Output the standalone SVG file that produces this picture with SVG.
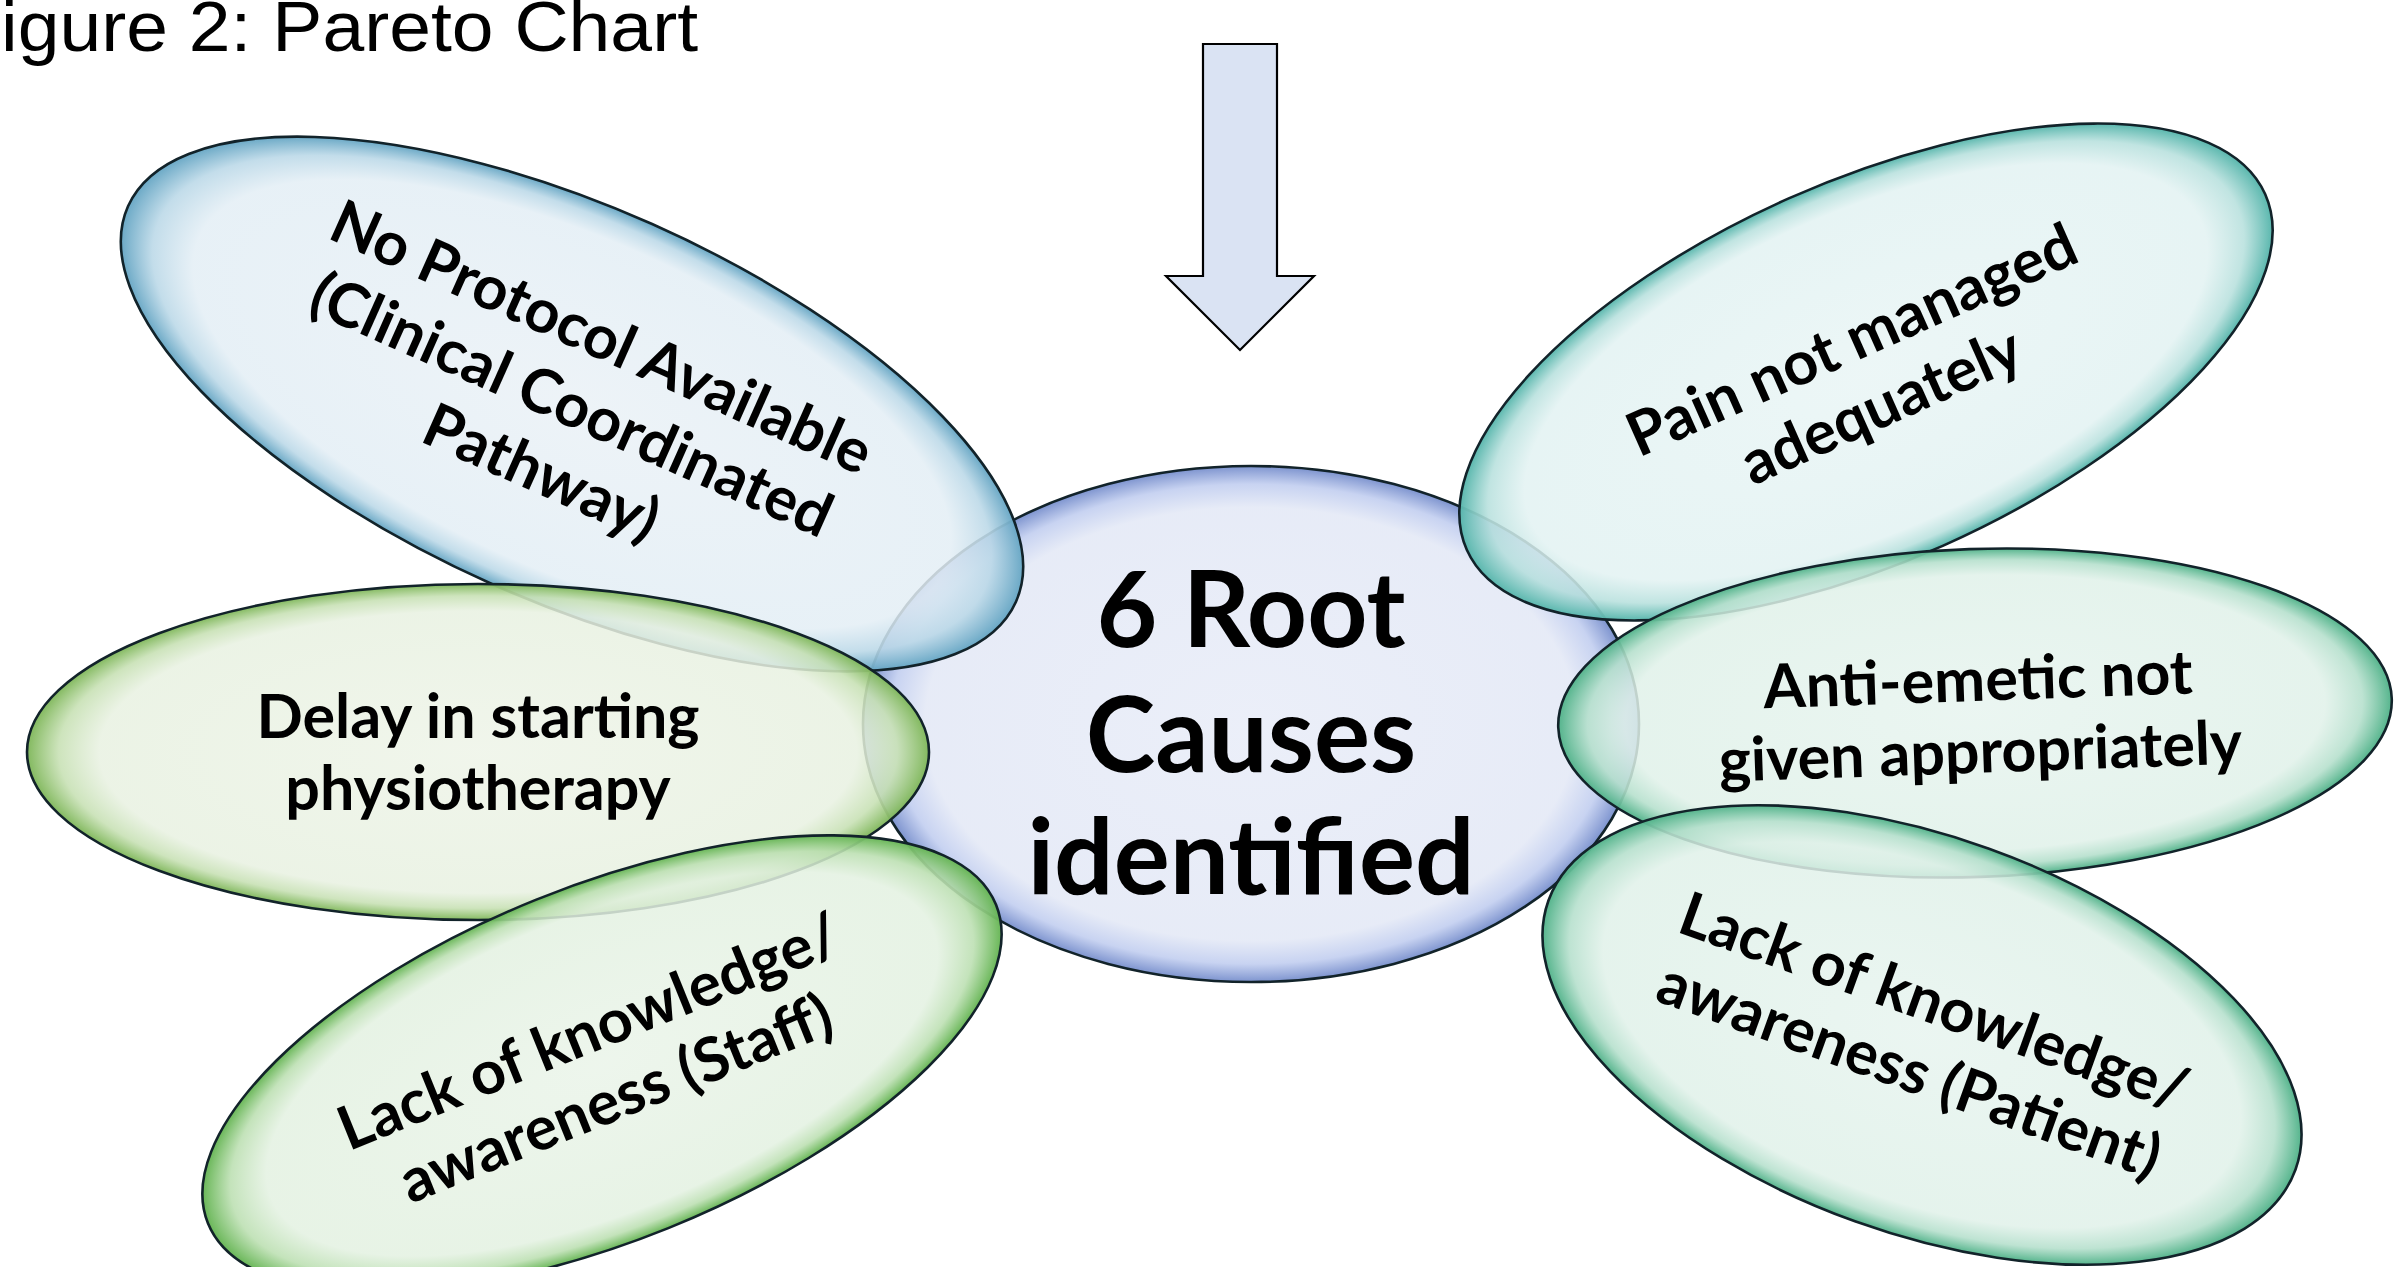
<svg xmlns="http://www.w3.org/2000/svg" width="2395" height="1267" viewBox="0 0 2395 1267">
<defs>
<radialGradient id="gCenter" cx="50%" cy="50%" r="50%">
<stop offset="0" stop-color="#e9edf8" stop-opacity="0.9"/>
<stop offset="0.84" stop-color="#e4e9f6" stop-opacity="0.9"/>
<stop offset="0.93" stop-color="#c3cff0" stop-opacity="0.92"/>
<stop offset="1" stop-color="#7990cd" stop-opacity="0.97"/>
</radialGradient>
<radialGradient id="gBlue" cx="50%" cy="50%" r="50%">
<stop offset="0" stop-color="#eaf1f6" stop-opacity="0.85"/>
<stop offset="0.84" stop-color="#e3eef5" stop-opacity="0.85"/>
<stop offset="0.93" stop-color="#bcd9e8" stop-opacity="0.9"/>
<stop offset="1" stop-color="#66a6c4" stop-opacity="0.97"/>
</radialGradient>
<radialGradient id="gLime" cx="50%" cy="50%" r="50%">
<stop offset="0" stop-color="#eef4e8" stop-opacity="0.85"/>
<stop offset="0.84" stop-color="#e8f1e1" stop-opacity="0.85"/>
<stop offset="0.93" stop-color="#c8e1b5" stop-opacity="0.9"/>
<stop offset="1" stop-color="#7fb75a" stop-opacity="0.97"/>
</radialGradient>
<radialGradient id="gGreen" cx="50%" cy="50%" r="50%">
<stop offset="0" stop-color="#eaf4e9" stop-opacity="0.85"/>
<stop offset="0.84" stop-color="#e3f1e1" stop-opacity="0.85"/>
<stop offset="0.93" stop-color="#bde0b3" stop-opacity="0.9"/>
<stop offset="1" stop-color="#64b452" stop-opacity="0.97"/>
</radialGradient>
<radialGradient id="gTeal" cx="50%" cy="50%" r="50%">
<stop offset="0" stop-color="#e9f5f5" stop-opacity="0.85"/>
<stop offset="0.84" stop-color="#e2f2f2" stop-opacity="0.85"/>
<stop offset="0.93" stop-color="#b9e1de" stop-opacity="0.9"/>
<stop offset="1" stop-color="#55b5ab" stop-opacity="0.97"/>
</radialGradient>
<radialGradient id="gSea" cx="50%" cy="50%" r="50%">
<stop offset="0" stop-color="#e7f4ef" stop-opacity="0.85"/>
<stop offset="0.84" stop-color="#e0f1e9" stop-opacity="0.85"/>
<stop offset="0.93" stop-color="#b6e0cd" stop-opacity="0.9"/>
<stop offset="1" stop-color="#50b289" stop-opacity="0.97"/>
</radialGradient>
</defs>
<style>
.bub { stroke: #12232a; stroke-width: 2.6; }
.lbl { font-family: Lato, "Open Sans", "Liberation Sans", sans-serif; font-weight: 700; font-size: 61px; text-anchor: middle; fill: #000; }
.big { font-size: 105px; }
.title { font-family: "Liberation Sans", Arial, sans-serif; font-size: 70px; fill: #000; }
.arrow { fill: #dae3f3; stroke: #000; stroke-width: 2.2; stroke-linejoin: miter; }
</style>
<rect width="2395" height="1267" fill="#ffffff"/>

<g id="title">
<text class="title" x="1" y="51" textLength="697" lengthAdjust="spacingAndGlyphs">igure 2: Pareto Chart</text>
</g>

<g id="connectors">
<polygon class="arrow" points="1203,44 1277,44 1277,276 1314,276 1240,350 1166,276 1203,276"/>
</g>

<g id="node-center">
<ellipse class="bub" cx="1251" cy="724" rx="388" ry="258" fill="url(#gCenter)"/>
<text class="lbl big" x="1251" y="647">6 Root</text>
<text class="lbl big" x="1251" y="772">Causes</text>
<text class="lbl big" x="1251" y="894">identified</text>
</g>

<g id="node-protocol" transform="translate(572,404) rotate(24)">
<ellipse class="bub" cx="0" cy="0" rx="486" ry="197" fill="url(#gBlue)"/>
<text class="lbl" x="0" y="-52">No Protocol Available</text>
<text class="lbl" x="0" y="22">(Clinical Coordinated</text>
<text class="lbl" x="0" y="96">Pathway)</text>
</g>

<g id="node-physio" transform="translate(478,752)">
<ellipse class="bub" cx="0" cy="0" rx="451" ry="168" fill="url(#gLime)"/>
<text class="lbl" x="0" y="-14">Delay in starting</text>
<text class="lbl" x="0" y="58">physiotherapy</text>
</g>

<g id="node-staff" transform="translate(602,1064) rotate(-22)">
<ellipse class="bub" cx="0" cy="0" rx="425" ry="177" fill="url(#gGreen)"/>
<text class="lbl" x="0" y="-14">Lack of knowledge/</text>
<text class="lbl" x="0" y="58">awareness (Staff)</text>
</g>

<g id="node-pain" transform="translate(1866,372) rotate(-24)">
<ellipse class="bub" cx="0" cy="0" rx="437" ry="190" fill="url(#gTeal)"/>
<text class="lbl" x="0" y="-14">Pain not managed</text>
<text class="lbl" x="0" y="58">adequately</text>
</g>

<g id="node-antiemetic" transform="translate(1975,713) rotate(-2)">
<ellipse class="bub" cx="0" cy="0" rx="417" ry="164" fill="url(#gSea)"/>
<text class="lbl" x="4" y="-12">Anti-emetic not</text>
<text class="lbl" x="4" y="60">given appropriately</text>
</g>

<g id="node-patient" transform="translate(1922,1035) rotate(19.8)">
<ellipse class="bub" cx="0" cy="0" rx="397" ry="198" fill="url(#gSea)"/>
<text class="lbl" x="0" y="-14">Lack of knowledge/</text>
<text class="lbl" x="0" y="58">awareness (Patient)</text>
</g>
</svg>
